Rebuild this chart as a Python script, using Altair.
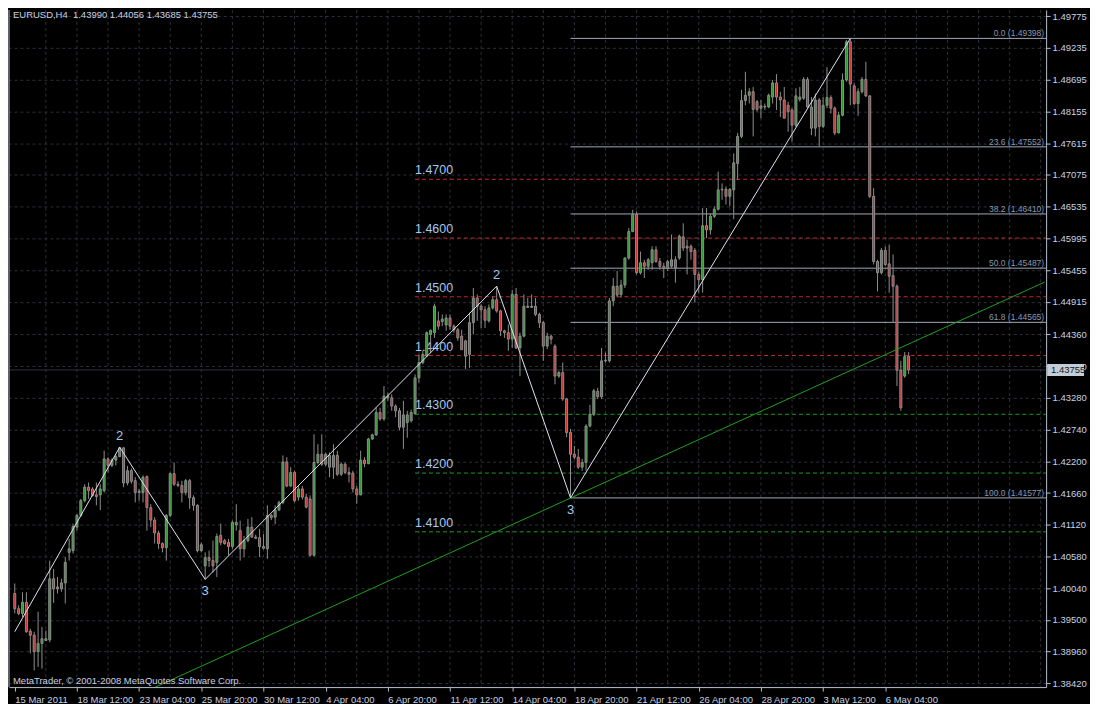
import json
import altair as alt
import pandas as pd

# ---------------- data ----------------
opens = [
    1.3995, 1.3969, 1.3961, 1.3980, 1.3931, 1.3924, 1.3896, 1.3910, 1.3915, 1.3916,
    1.4020, 1.4003, 1.4003, 1.4013, 1.4065, 1.4068, 1.4108, 1.4128, 1.4153, 1.4176,
    1.4173, 1.4163, 1.4163, 1.4170, 1.4224, 1.4213, 1.4222, 1.4228, 1.4243, 1.4183,
    1.4204, 1.4187, 1.4167, 1.4167, 1.4194, 1.4141, 1.4120, 1.4098, 1.4080, 1.4073,
    1.4128, 1.4199, 1.4181, 1.4179, 1.4167, 1.4187, 1.4158, 1.4145, 1.4068, 1.4042,
    1.4056, 1.4051, 1.4048, 1.4094, 1.4085, 1.4082, 1.4075, 1.4112, 1.4102, 1.4071,
    1.4085, 1.4108, 1.4091, 1.4090, 1.4075, 1.4071, 1.4128, 1.4125, 1.4137, 1.4150,
    1.4219, 1.4178, 1.4201, 1.4159, 1.4173, 1.4159, 1.4156, 1.4060, 1.4218, 1.4232,
    1.4215, 1.4230, 1.4210, 1.4230, 1.4198, 1.4215, 1.4201, 1.4200, 1.4173, 1.4163,
    1.4222, 1.4216, 1.4258, 1.4265, 1.4303, 1.4292, 1.4331, 1.4328, 1.4314, 1.4306,
    1.4278, 1.4286, 1.4289, 1.4301, 1.4362, 1.4388, 1.4399, 1.4436, 1.4439, 1.4459,
    1.4458, 1.4452, 1.4464, 1.4450, 1.4444, 1.4433, 1.4425, 1.4402, 1.4456, 1.4498,
    1.4484, 1.4478, 1.4459, 1.4481, 1.4495, 1.4476, 1.4442, 1.4439, 1.4428, 1.4504,
    1.4413, 1.4433, 1.4484, 1.4482, 1.4484, 1.4470, 1.4456, 1.4416, 1.4433, 1.4416,
    1.4365, 1.4371, 1.4326, 1.4269, 1.4232, 1.4227, 1.4210, 1.4218, 1.4280, 1.4300,
    1.4339, 1.4330, 1.4391, 1.4391, 1.4493, 1.4518, 1.4504, 1.4520, 1.4566, 1.4611,
    1.4640, 1.4541, 1.4558, 1.4552, 1.4558, 1.4580, 1.4560, 1.4552, 1.4548, 1.4552,
    1.4563, 1.4566, 1.4602, 1.4583, 1.4586, 1.4579, 1.4538, 1.4529, 1.4621, 1.4614,
    1.4637, 1.4649, 1.4682, 1.4683, 1.4671, 1.4682, 1.4727, 1.4773, 1.4834, 1.4843,
    1.4849, 1.4832, 1.4821, 1.4824, 1.4823, 1.4840, 1.4864, 1.4840, 1.4835, 1.4826,
    1.4818, 1.4792, 1.4836, 1.4838, 1.4870, 1.4823, 1.4787, 1.4835, 1.4790, 1.4826,
    1.4839, 1.4821, 1.4779, 1.4809, 1.4869, 1.4934, 1.4859, 1.4829, 1.4849, 1.4870,
    1.4842, 1.4671, 1.4560, 1.4541, 1.4579, 1.4556, 1.4536, 1.4518, 1.4375, 1.4365,
    1.43990,
]
highs = [
    1.4012, 1.3975, 1.3997, 1.3997, 1.3935, 1.3930, 1.3964, 1.3938, 1.3932, 1.4051,
    1.4037, 1.4023, 1.4020, 1.4057, 1.4088, 1.4114, 1.4130, 1.4156, 1.4181, 1.4184,
    1.4176, 1.4184, 1.4181, 1.4238, 1.4227, 1.4225, 1.4232, 1.4244, 1.4243, 1.4212,
    1.4208, 1.4193, 1.4173, 1.4196, 1.4196, 1.4147, 1.4125, 1.4102, 1.4082, 1.4130,
    1.4201, 1.4218, 1.4186, 1.4187, 1.4190, 1.4190, 1.4162, 1.4147, 1.4082, 1.4065,
    1.4068, 1.4085, 1.4097, 1.4114, 1.4088, 1.4088, 1.4119, 1.4147, 1.4119, 1.4093,
    1.4122, 1.4125, 1.4095, 1.4105, 1.4096, 1.4145, 1.4130, 1.4145, 1.4153, 1.4230,
    1.4227, 1.4210, 1.4204, 1.4178, 1.4178, 1.4165, 1.4162, 1.4266, 1.4249, 1.4266,
    1.4235, 1.4235, 1.4249, 1.4238, 1.4218, 1.4218, 1.4210, 1.4204, 1.4178, 1.4238,
    1.4227, 1.4260, 1.4267, 1.4311, 1.4311, 1.4348, 1.4337, 1.4334, 1.4317, 1.4311,
    1.4323, 1.4306, 1.4308, 1.4368, 1.4402, 1.4408, 1.4441, 1.4444, 1.4488, 1.4475,
    1.4470, 1.4470, 1.4470, 1.4453, 1.4447, 1.4444, 1.4427, 1.4473, 1.4515, 1.4504,
    1.4487, 1.4484, 1.4487, 1.4501, 1.4518, 1.4478, 1.4444, 1.4453, 1.4512, 1.4515,
    1.4439, 1.4504, 1.4498, 1.4504, 1.4498, 1.4473, 1.4459, 1.4439, 1.4436, 1.4419,
    1.4374, 1.4388, 1.4328, 1.4275, 1.4246, 1.4241, 1.4224, 1.4283, 1.4316, 1.4343,
    1.4345, 1.4413, 1.4405, 1.4498, 1.4532, 1.4544, 1.4529, 1.4567, 1.4617, 1.4648,
    1.4645, 1.4577, 1.4563, 1.4566, 1.4586, 1.4586, 1.4566, 1.4558, 1.4563, 1.4606,
    1.4569, 1.4606, 1.4625, 1.4597, 1.4589, 1.4583, 1.4543, 1.4651, 1.4651, 1.4642,
    1.4654, 1.4713, 1.4693, 1.4688, 1.4685, 1.4744, 1.4779, 1.4852, 1.4883, 1.4855,
    1.4857, 1.4835, 1.4835, 1.4829, 1.4846, 1.4869, 1.4879, 1.4849, 1.4857, 1.4832,
    1.4821, 1.4855, 1.4857, 1.4874, 1.4874, 1.4840, 1.4846, 1.4838, 1.4840, 1.4891,
    1.4843, 1.4824, 1.4815, 1.4880, 1.4937, 1.49398, 1.4863, 1.4855, 1.4874, 1.4900,
    1.4843, 1.4685, 1.4563, 1.4583, 1.4586, 1.4589, 1.4572, 1.4521, 1.4391, 1.4406,
    1.44056,
]
lows = [
    1.3961, 1.3958, 1.3955, 1.3928, 1.3893, 1.3864, 1.3870, 1.3867, 1.3914, 1.3912,
    1.3979, 1.3995, 1.3998, 1.3978, 1.4051, 1.4063, 1.4102, 1.4125, 1.4150, 1.4156,
    1.4160, 1.4145, 1.4137, 1.4167, 1.4201, 1.4210, 1.4213, 1.4227, 1.4176, 1.4179,
    1.4182, 1.4150, 1.4153, 1.4150, 1.4102, 1.4108, 1.4080, 1.4071, 1.4065, 1.4051,
    1.4125, 1.4178, 1.4176, 1.4150, 1.4162, 1.4139, 1.4136, 1.4065, 1.4065, 1.4019,
    1.4040, 1.4031, 1.4023, 1.4077, 1.4078, 1.4060, 1.4071, 1.4102, 1.4051, 1.4057,
    1.4082, 1.4090, 1.4088, 1.4057, 1.4070, 1.4054, 1.4120, 1.4113, 1.4136, 1.4147,
    1.4176, 1.4176, 1.4150, 1.4153, 1.4155, 1.4140, 1.4058, 1.4058, 1.4215, 1.4212,
    1.4212, 1.4193, 1.4190, 1.4195, 1.4195, 1.4198, 1.4184, 1.4167, 1.4148, 1.4162,
    1.4210, 1.4215, 1.4256, 1.4263, 1.4289, 1.4289, 1.4323, 1.4306, 1.4295, 1.4273,
    1.4241, 1.4260, 1.4286, 1.4300, 1.4354, 1.4385, 1.4398, 1.4404, 1.4430, 1.4444,
    1.4450, 1.4442, 1.4444, 1.4439, 1.4425, 1.4410, 1.4377, 1.4379, 1.4436, 1.4459,
    1.4447, 1.4447, 1.4456, 1.4478, 1.4473, 1.4433, 1.4430, 1.4408, 1.4413, 1.4411,
    1.4365, 1.4431, 1.4481, 1.4481, 1.4467, 1.4447, 1.4391, 1.4411, 1.4419, 1.4351,
    1.4362, 1.4323, 1.4261, 1.41577, 1.4224, 1.4207, 1.4204, 1.4204, 1.4278, 1.4297,
    1.4326, 1.4326, 1.4388, 1.4388, 1.4484, 1.4499, 1.4499, 1.4515, 1.4563, 1.4610,
    1.4538, 1.4538, 1.4532, 1.4546, 1.4546, 1.4558, 1.4546, 1.4532, 1.4544, 1.4549,
    1.4524, 1.4563, 1.4578, 1.4538, 1.4563, 1.4490, 1.4507, 1.4507, 1.4600, 1.4606,
    1.4634, 1.4647, 1.4665, 1.4657, 1.4654, 1.4632, 1.4699, 1.4770, 1.4826, 1.4829,
    1.4773, 1.4815, 1.4804, 1.4818, 1.4821, 1.4829, 1.4818, 1.4806, 1.4804, 1.4781,
    1.4764, 1.4789, 1.4832, 1.4835, 1.4821, 1.4775, 1.4773, 1.4756, 1.4787, 1.4821,
    1.4812, 1.4775, 1.4778, 1.4807, 1.4866, 1.4826, 1.4826, 1.4808, 1.4846, 1.4840,
    1.4668, 1.4555, 1.4509, 1.4538, 1.4552, 1.4507, 1.4456, 1.4348, 1.4306, 1.4362,
    1.43685,
]
closes = [
    1.3969, 1.3961, 1.3980, 1.3930, 1.3924, 1.3896, 1.3910, 1.3918, 1.3918, 1.4020,
    1.4003, 1.4006, 1.4013, 1.4048, 1.4071, 1.4109, 1.4128, 1.4153, 1.4176, 1.4170,
    1.4162, 1.4160, 1.4173, 1.4224, 1.4213, 1.4222, 1.4228, 1.4243, 1.4183, 1.4204,
    1.4186, 1.4167, 1.4169, 1.4193, 1.4141, 1.4120, 1.4098, 1.4080, 1.4073, 1.4128,
    1.4199, 1.4181, 1.4179, 1.4167, 1.4187, 1.4158, 1.4145, 1.4068, 1.4078, 1.4056,
    1.4051, 1.4042, 1.4092, 1.4082, 1.4080, 1.4075, 1.4116, 1.4116, 1.4071, 1.4085,
    1.4108, 1.4091, 1.4089, 1.4075, 1.4072, 1.4128, 1.4124, 1.4137, 1.4150, 1.4219,
    1.4178, 1.4201, 1.4153, 1.4173, 1.4159, 1.4142, 1.4060, 1.4218, 1.4232, 1.4215,
    1.4232, 1.4210, 1.4230, 1.4198, 1.4215, 1.4201, 1.4198, 1.4173, 1.4163, 1.4222,
    1.4216, 1.4258, 1.4265, 1.4303, 1.4292, 1.4331, 1.4328, 1.4314, 1.4306, 1.4278,
    1.4299, 1.4299, 1.4303, 1.4362, 1.4388, 1.4402, 1.4439, 1.4443, 1.4484, 1.4450,
    1.4462, 1.4464, 1.4450, 1.4444, 1.4430, 1.4410, 1.4399, 1.4456, 1.4498, 1.4484,
    1.4478, 1.4460, 1.4481, 1.4495, 1.4476, 1.4442, 1.4439, 1.4428, 1.4504, 1.4413,
    1.4433, 1.4484, 1.4482, 1.4484, 1.4470, 1.4456, 1.4416, 1.4433, 1.4428, 1.4365,
    1.4371, 1.4326, 1.4269, 1.4232, 1.4227, 1.4210, 1.4218, 1.4280, 1.4300, 1.4340,
    1.4330, 1.4391, 1.4392, 1.4493, 1.4518, 1.4503, 1.4520, 1.4566, 1.4611, 1.4640,
    1.4541, 1.4558, 1.4552, 1.4563, 1.4580, 1.4560, 1.4552, 1.4548, 1.4560, 1.4563,
    1.4549, 1.4603, 1.4583, 1.4586, 1.4577, 1.4538, 1.4529, 1.4621, 1.4614, 1.4637,
    1.4649, 1.4682, 1.4683, 1.4671, 1.4683, 1.4728, 1.4773, 1.4834, 1.4843, 1.4849,
    1.4819, 1.4819, 1.4825, 1.4823, 1.4843, 1.4864, 1.4840, 1.4835, 1.4804, 1.4815,
    1.4792, 1.4842, 1.4840, 1.4870, 1.4823, 1.4787, 1.4835, 1.4790, 1.4826, 1.4839,
    1.4821, 1.4779, 1.4809, 1.4869, 1.4934, 1.4862, 1.4829, 1.4849, 1.4870, 1.4842,
    1.4671, 1.4560, 1.4541, 1.4579, 1.4555, 1.4535, 1.4518, 1.4375, 1.4311, 1.4398,
    1.43755,
]

date_ticks = [0, 16, 32, 48, 64, 80, 96, 112, 128, 144, 160, 176, 192, 208, 224]
date_labels = ["15 Mar 2011", "18 Mar 12:00", "23 Mar 04:00", "25 Mar 20:00",
               "30 Mar 12:00", "4 Apr 04:00", "6 Apr 20:00", "11 Apr 12:00",
               "14 Apr 04:00", "18 Apr 20:00", "21 Apr 12:00", "26 Apr 04:00",
               "28 Apr 20:00", "3 May 12:00", "6 May 04:00"]
price_ticks = [1.38420, 1.38960, 1.39500, 1.40040, 1.40580, 1.41120, 1.41660,
               1.42200, 1.42740, 1.43280, 1.43820, 1.44360, 1.44915, 1.45455,
               1.45995, 1.46535, 1.47075, 1.47615, 1.48155, 1.48695, 1.49235,
               1.49775]
grid_bars = list(range(8, 265, 8))

zz_bars = [0, 27, 49, 124, 143, 215]
zz_prices = [1.3930, 1.4244, 1.4019, 1.4518, 1.41577, 1.49398]
wave_bars = [27, 124]
wave_prices_peak = [1.4244, 1.4518]
wave_bars_trough = [49, 143]
wave_prices_trough = [1.4019, 1.41577]

fib_levels = ["0.0", "23.6", "38.2", "50.0", "61.8", "100.0"]
fib_prices = [1.49398, 1.47552, 1.46410, 1.45487, 1.44565, 1.41577]
fib_start_bar = 143

level_prices = [1.4700, 1.4600, 1.4500, 1.4400, 1.4300, 1.4200, 1.4100]
level_colors = ["#c62828", "#c62828", "#c62828", "#c62828",
                "#1c9a1c", "#1c9a1c", "#1c9a1c"]
level_start_bar = 103

trend_bars = [30, 265]
trend_prices = [1.3817, 1.4525]

last_price = 1.43755
title_text = "EURUSD,H4\u00a0 1.43990 1.44056 1.43685 1.43755"
copyright_text = "MetaTrader, \u00a9 2001-2008 MetaQuotes Software Corp."

# ---------------- styling ----------------
W, H = 1040, 679
FONT = "Liberation Sans"
AXIS_COL = "#b4bfd0"
LABEL_COL = "#c8d2e2"
LEVEL_TXT = "#a6c8ee"
WICK = "#8e8e8e"
UP = "#2a9a2a"
DOWN = "#d02a2a"

xs = alt.Scale(domain=[-0.2, 264.1], nice=False, zero=False)
ys = alt.Scale(domain=[1.38357, 1.49882], nice=False, zero=False)

label_js = json.dumps(date_labels)
x_axis = alt.Axis(values=date_ticks, labelExpr=f"{label_js}[round(datum.value/16)]",
                  labelAlign="left", labelPadding=3, tickSize=4, labelFontSize=9.5,
                  labelFont=FONT, labelColor=LABEL_COL, domainColor=AXIS_COL,
                  tickColor=AXIS_COL, grid=False, labelFlush=False,
                  labelOverlap=False, title=None)
y_axis = alt.Axis(orient="right", values=price_ticks, format=".5f", tickSize=4,
                  labelPadding=2, labelFontSize=9.5, labelFont=FONT,
                  labelColor=LABEL_COL, domainColor=AXIS_COL, tickColor=AXIS_COL,
                  grid=True, gridColor="#2c3039", gridDash=[3, 3],
                  labelOverlap=False, title=None)

df = pd.DataFrame({"bar": list(range(len(opens))), "o": opens, "h": highs,
                   "l": lows, "c": closes})
df["blo"] = df[["o", "c"]].min(axis=1)
df["bhi"] = df[["o", "c"]].max(axis=1)
df["fill"] = [UP if c > o else (DOWN if c < o else WICK)
              for o, c in zip(df["o"], df["c"])]


def X(f):
    return alt.X(f, scale=xs, axis=x_axis)


def Y(f):
    return alt.Y(f, scale=ys, axis=y_axis)


# vertical grid
vgrid = alt.Chart(pd.DataFrame({"bar": grid_bars})).mark_rule(
    color="#2c3039", strokeDash=[3, 3], strokeWidth=1
).encode(x=X("bar:Q"), y=alt.value(0), y2=alt.value(H))

# level lines + labels
lv = pd.DataFrame({"bar": [level_start_bar] * len(level_prices), "p": level_prices,
                   "col": level_colors, "txt": [f"{p:.4f}" for p in level_prices]})
levels = alt.Chart(lv).mark_rule(strokeDash=[4, 3], strokeWidth=1).encode(
    x=X("bar:Q"), x2=alt.value(W), y=Y("p:Q"), color=alt.Color("col:N", scale=None))
level_txt = alt.Chart(lv).mark_text(align="left", baseline="alphabetic", dy=-5,
                                    fontSize=12.5, font=FONT, color=LEVEL_TXT).encode(
    x=X("bar:Q"), y=Y("p:Q"), text="txt:N")

# fibonacci
fb = pd.DataFrame({"bar": [fib_start_bar] * len(fib_prices), "p": fib_prices,
                   "txt": [f"{l} ({p:.5f})" for l, p in zip(fib_levels, fib_prices)]})
fib_lines = alt.Chart(fb).mark_rule(color="#9ea8b8", strokeWidth=1).encode(
    x=X("bar:Q"), x2=alt.value(W), y=Y("p:Q"))
fib_txt = alt.Chart(fb).mark_text(align="right", baseline="alphabetic", dy=-2,
                                  fontSize=8.5, font=FONT, color="#8898b0").encode(
    x=alt.value(W - 2), y=Y("p:Q"), text="txt:N")

# current price line
lp = pd.DataFrame({"p": [last_price], "txt": [f"{last_price:.5f}"]})
price_line = alt.Chart(lp).mark_rule(color="#2e3340", strokeWidth=1).encode(
    x=alt.value(0), x2=alt.value(W), y=Y("p:Q"))

# candles
wicks = alt.Chart(df).mark_rule(color=WICK, strokeWidth=1).encode(
    x=X("bar:Q"), y=Y("l:Q"), y2="h:Q")
bodies = alt.Chart(df).mark_bar(size=2, stroke=WICK, strokeWidth=1).encode(
    x=X("bar:Q"), y=Y("blo:Q"), y2="bhi:Q", fill=alt.Fill("fill:N", scale=None))

# trend line
tl = alt.Chart(pd.DataFrame({"bar": trend_bars, "p": trend_prices})).mark_line(
    color="#1f9f1f", strokeWidth=1, clip=True).encode(x=X("bar:Q"), y=Y("p:Q"))

# zigzag
zz = alt.Chart(pd.DataFrame({"bar": zz_bars, "p": zz_prices})).mark_line(
    color="#dde3ef", strokeWidth=1, clip=True).encode(x=X("bar:Q"), y=Y("p:Q"))
peak_txt = alt.Chart(pd.DataFrame({"bar": wave_bars, "p": wave_prices_peak,
                                   "t": ["2", "2"]})).mark_text(
    baseline="middle", dy=-11, fontSize=13, font=FONT, color=LEVEL_TXT).encode(
    x=X("bar:Q"), y=Y("p:Q"), text="t:N")
trough_txt = alt.Chart(pd.DataFrame({"bar": wave_bars_trough, "p": wave_prices_trough,
                                     "t": ["3", "3"]})).mark_text(
    baseline="middle", dy=12, fontSize=13, font=FONT, color=LEVEL_TXT).encode(
    x=X("bar:Q"), y=Y("p:Q"), text="t:N")

# left border
left_border = alt.Chart(lp).mark_rule(color=AXIS_COL, strokeWidth=1).encode(
    x=alt.value(0), y=alt.value(0), y2=alt.value(H))

# texts
title = alt.Chart(pd.DataFrame({"t": [title_text]})).mark_text(
    align="left", baseline="middle", fontSize=9.5, font=FONT, color=LABEL_COL).encode(
    x=alt.value(4), y=alt.value(5), text="t:N")
wm = alt.Chart(pd.DataFrame({"t": [copyright_text]})).mark_text(
    align="left", baseline="middle", fontSize=9.5, font=FONT, color=LABEL_COL).encode(
    x=alt.value(4), y=alt.value(H - 6), text="t:N")

# current price box on the axis
price_box = alt.Chart(lp).mark_rule(color="#c4ccd8", strokeWidth=12).encode(
    x=alt.value(W + 1), x2=alt.value(W + 38), y=Y("p:Q"))
price_box_txt = alt.Chart(lp).mark_text(
    align="left", baseline="middle", fontSize=9.5, font=FONT, color="#101820").encode(
    x=alt.value(W + 5), y=Y("p:Q"), text="txt:N")

chart = alt.layer(
    vgrid, levels, level_txt, fib_lines, fib_txt, price_line,
    wicks, bodies, tl, zz, peak_txt, trough_txt, left_border, title, wm,
    price_box, price_box_txt
).properties(width=W, height=H, background="#000000", padding=0
             ).configure_view(stroke=None)

chart.save("out.html", embed_options={"renderer": "svg", "actions": False})
